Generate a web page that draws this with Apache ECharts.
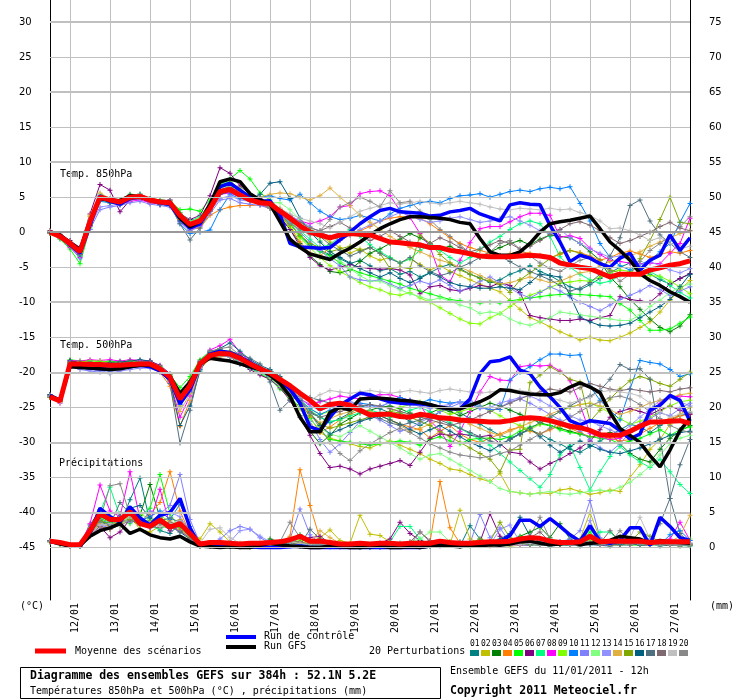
<!DOCTYPE html>
<html>
<head>
<meta charset="utf-8">
<title>Diagramme des ensembles GEFS</title>
<script src="https://cdn.jsdelivr.net/npm/echarts@6.0.0/dist/echarts.min.js"></script>
<style>
html,body{margin:0;padding:0;background:#fff;}
#chart{width:740px;height:700px;}
</style>
</head>
<body>
<div id="chart"></div>
<script>
// echeances en heures depuis le 11/01/2011 12h
var hours = [0,6,12,18,24,30,36,42,48,54,60,66,72,78,84,90,96,102,108,114,120,126,132,138,144,150,156,162,168,174,180,186,
  192,198,204,210,216,222,228,234,240,246,252,258,264,270,276,282,288,294,300,306,312,318,324,330,336,342,348,354,360,366,372,378,384];
var dateLabels = ['12/01','13/01','14/01','15/01','16/01','17/01','18/01','19/01','20/01','21/01','22/01','23/01','24/01','25/01','26/01','27/01'];
var leftTicks = [30,25,20,15,10,5,0,-5,-10,-15,-20,-25,-30,-35,-40,-45];
var pertNames = ['01','02','03','04','05','06','07','08','09','10','11','12','13','14','15','16','17','18','19','20'];
var pertColors = ['#008080','#c0c000','#008000','#ff8000','#00ff00','#800080','#00ff80','#ff00ff','#80ff00','#0080ff',
  '#8080ff','#80ff80','#9090ff','#e0b040','#80a800','#006080','#507080','#806870','#c0c0c0','#888888'];

// Temp. 850hPa
var t850Mean = [0.0,-0.6,-1.6,-2.8,1.5,5.0,4.6,4.3,5.0,5.1,4.6,4.3,4.2,2.4,1.1,1.6,
  3.4,5.8,6.1,5.3,4.6,4.2,4.1,3.0,2.0,0.9,0.0,-0.4,-0.8,-0.4,-0.2,-0.3,
  -0.4,-0.9,-1.4,-1.5,-1.7,-1.8,-2.2,-2.2,-2.6,-2.8,-3.1,-3.4,-3.5,-3.5,-3.5,-3.4,
  -3.3,-3.4,-3.6,-4.4,-4.7,-5.0,-5.2,-5.8,-6.4,-6.0,-6.0,-6.0,-5.4,-5.1,-4.7,-4.5,-4.1];
var t850Ctrl = [0.0,-0.5,-1.8,-3.0,1.0,5.2,4.4,4.0,4.8,5.0,4.5,4.2,4.0,2.0,0.6,1.2,
  3.5,6.5,7.0,6.0,5.0,4.4,4.5,2.5,-1.6,-2.1,-2.2,-2.3,-2.2,-1.1,0.0,1.2,
  2.2,3.1,3.4,2.9,2.8,2.7,2.3,2.4,2.9,3.1,3.4,2.6,2.1,1.6,3.9,4.2,
  4.0,3.9,1.0,-1.4,-4.2,-3.3,-3.7,-4.5,-5.0,-3.7,-3.0,-5.4,-4.0,-3.3,-0.4,-2.6,-0.8];
var t850Gfs = [0.0,-0.4,-1.5,-2.5,1.5,4.8,4.6,4.5,5.2,5.0,4.6,4.4,4.3,2.0,0.8,1.5,
  4.0,7.2,7.6,7.2,5.5,4.6,4.0,1.5,-1.0,-2.2,-3.1,-3.5,-3.9,-3.0,-2.3,-1.4,
  -0.4,0.5,1.2,1.8,2.2,2.2,2.1,2.0,1.8,1.4,1.2,-0.9,-2.8,-3.3,-3.3,-2.8,
  -1.6,0.0,1.2,1.5,1.7,2.0,2.3,0.5,-1.4,-2.6,-4.0,-5.9,-6.9,-7.6,-8.5,-9.2,-10.0];
var t850Pert = [
  [0.1,-0.5,-1.8,-3.2,1.0,5.3,4.8,4.5,5.2,5.0,4.4,4.0,4.1,2.0,0.5,1.4,
   3.6,6.2,6.8,5.6,4.9,4.4,3.8,2.6,1.2,-0.5,-1.8,-2.6,-3.2,-3.8,-4.5,-4.0,
   -4.8,-5.5,-5.2,-6.0,-5.6,-6.4,-5.8,-5.0,-4.6,-5.2,-6.0,-6.5,-7.2,-6.8,-6.0,-5.5,
   -4.8,-5.6,-6.2,-7.0,-7.8,-8.2,-7.5,-6.6,-5.8,-5.0,-4.4,-5.2,-6.0,-6.8,-7.4,-6.6,-6.0],
  [-0.2,-0.8,-1.5,-2.4,2.2,5.5,4.7,4.2,4.8,5.2,4.8,4.5,4.4,2.8,1.5,2.0,
   3.8,6.0,6.4,5.8,5.0,4.6,4.2,3.4,2.4,1.5,0.6,-0.5,-1.4,-2.2,-3.0,-2.4,
   -3.4,-4.0,-3.6,-4.4,-3.8,-4.6,-5.4,-4.8,-5.6,-6.2,-6.8,-7.4,-8.0,-8.5,-9.8,-11.0,
   -12.2,-12.8,-13.5,-14.2,-14.8,-15.4,-15.0,-15.4,-15.5,-15.0,-14.4,-13.6,-12.8,-11.4,-9.7,-8.2,-6.9],
  [0.0,-0.7,-2.0,-3.0,1.2,4.8,4.4,4.6,5.4,5.3,4.6,4.2,4.0,2.2,0.8,1.2,
   3.2,5.8,6.6,5.8,4.8,4.0,3.4,2.0,0.4,-1.6,-3.4,-4.6,-5.6,-5.8,-5.4,-4.2,
   -3.0,-2.4,-1.6,-1.0,-0.2,-0.8,-1.6,-2.4,-2.0,-2.8,-3.2,-3.6,-2.8,-2.2,-1.6,-1.2,
   -1.8,-1.0,-0.4,-0.6,-0.8,-1.6,-2.8,-4.0,-6.4,-7.8,-9.6,-11.0,-12.4,-13.6,-14.2,-13.4,-11.8],
  [0.2,-0.4,-1.4,-2.6,1.8,4.8,4.2,4.0,4.6,4.8,4.2,4.0,3.8,1.8,0.4,0.6,
   2.4,3.2,3.6,3.8,3.8,3.9,3.4,2.4,0.8,-1.4,-3.0,-3.4,-2.2,-1.2,-0.4,0.2,
   0.8,1.6,2.0,2.2,2.2,2.0,1.2,0.2,-0.8,-1.6,-2.2,-2.6,-3.0,-3.3,-3.1,-2.8,
   -3.0,-3.3,-3.6,-3.2,-2.6,-2.9,-3.4,-4.0,-3.6,-3.0,-2.7,-3.1,-3.6,-3.2,-2.8,-3.0,-2.6],
  [-0.1,-1.0,-2.4,-4.5,0.6,4.6,4.2,4.4,5.0,4.9,4.8,4.6,4.4,3.2,3.3,3.0,
   4.6,6.8,7.6,8.8,7.6,5.6,4.6,3.2,1.4,-0.6,-2.0,-2.8,-3.4,-4.4,-5.2,-5.8,
   -6.2,-6.6,-7.0,-7.4,-8.0,-8.4,-8.8,-9.2,-9.6,-9.8,-10.0,-10.1,-10.0,-10.1,-9.8,-9.6,
   -9.4,-9.2,-9.0,-8.9,-8.8,-8.9,-9.0,-9.1,-9.2,-10.2,-11.1,-12.6,-14.0,-14.0,-13.8,-13.0,-12.1],
  [0.2,-0.3,-1.2,-2.2,2.6,6.8,6.0,2.9,4.6,5.4,4.8,4.4,4.6,2.6,1.8,2.4,
   5.2,9.2,8.4,6.6,5.4,4.8,3.6,2.2,0.4,-2.0,-3.6,-4.8,-5.4,-5.0,-4.6,-5.0,
   -5.2,-5.3,-5.2,-5.4,-6.1,-8.8,-7.8,-7.6,-8.2,-8.4,-8.0,-7.6,-7.8,-7.2,-7.6,-8.6,
   -11.9,-12.2,-12.4,-12.6,-12.6,-12.4,-12.6,-12.2,-11.9,-9.2,-9.6,-9.8,-10.0,-8.8,-7.4,-6.6,-5.9],
  [-0.1,-0.6,-1.7,-3.0,1.6,5.2,4.8,4.4,5.2,5.4,4.8,4.4,4.2,2.8,1.6,2.2,
   4.2,6.6,7.4,6.0,5.0,4.4,3.8,2.8,1.6,0.2,-1.0,-2.2,-1.8,-0.6,0.4,-0.6,
   -1.8,-2.8,-3.6,-4.4,-3.8,-2.6,-1.8,-2.6,-3.6,-4.4,-3.6,-2.4,-1.4,-0.6,0.4,1.2,
   1.6,1.2,-0.6,-3.5,-5.0,-6.0,-6.8,-7.3,-7.0,-6.2,-5.6,-5.0,-5.6,-6.4,-7.6,-8.6,-9.4],
  [0.0,-0.8,-2.2,-3.6,0.8,4.6,4.4,4.0,4.4,4.6,4.2,4.0,3.8,1.6,0.2,1.0,
   3.0,5.4,5.6,5.0,4.4,4.0,3.6,2.8,2.2,1.6,1.2,1.6,2.2,3.6,3.8,5.5,
   5.8,5.9,5.2,3.1,2.1,-0.2,-2.1,-6.1,-7.1,-4.0,-1.5,0.5,0.8,0.8,1.5,2.2,
   2.7,2.7,2.4,-0.7,-0.5,-0.9,-2.3,-3.2,-4.0,-4.2,-4.4,-4.5,-4.4,-4.5,-3.0,-1.6,2.0],
  [0.1,-0.4,-1.6,-3.4,1.2,5.0,4.6,4.6,5.0,5.2,4.4,4.2,4.0,2.4,1.0,1.8,
   3.8,6.2,7.2,6.2,5.2,4.4,3.6,2.2,0.8,-0.8,-2.2,-3.6,-4.8,-5.6,-6.4,-7.2,
   -7.8,-8.2,-8.8,-9.0,-8.6,-9.4,-10.0,-10.8,-11.6,-12.4,-13.0,-13.1,-12.2,-11.6,-10.6,-9.7,
   -9.0,-8.5,-7.9,-7.3,-7.1,-6.9,-7.0,-6.4,-5.8,-5.4,-5.6,-6.1,-6.2,-6.3,-7.0,-7.8,-8.8],
  [0.0,-0.6,-1.9,-3.4,0.4,4.4,4.2,4.0,4.8,4.9,4.4,4.0,3.8,1.2,-0.2,0.0,
   0.3,3.2,5.4,4.8,4.6,5.0,5.2,4.8,4.6,5.4,4.2,3.0,2.2,1.8,2.0,2.4,
   2.0,1.6,2.6,3.4,3.8,4.2,4.4,4.2,4.8,5.2,5.3,5.5,5.0,5.4,5.8,6.0,
   5.8,6.2,6.4,6.2,6.5,4.1,1.6,-1.6,-3.6,-4.8,-5.4,-4.6,-4.0,-2.8,-1.6,1.4,4.1],
  [-0.1,-0.9,-2.0,-3.8,0.4,3.2,3.6,3.8,4.2,4.4,4.0,3.8,3.6,1.4,0.2,0.8,
   2.6,4.6,4.8,4.2,4.0,3.8,3.4,2.6,1.4,0.0,-1.4,-2.6,-3.8,-4.8,-6.4,-6.8,
   -7.0,-6.8,-7.4,-8.0,-7.6,-7.0,-7.4,-6.8,-7.6,-8.4,-7.8,-7.0,-6.4,-7.2,-8.0,-8.8,
   -9.4,-8.6,-7.8,-8.4,-9.2,-10.0,-10.6,-11.2,-10.4,-9.6,-9.0,-8.4,-7.6,-8.2,-9.0,-8.4,-7.8],
  [0.1,-0.5,-1.7,-3.1,1.4,5.4,4.6,4.4,5.0,5.1,4.5,4.3,4.2,2.6,1.4,1.8,
   3.6,6.0,6.6,5.6,4.8,4.4,4.2,4.2,3.2,1.8,0.4,-1.2,-2.6,-4.0,-5.2,-6.2,
   -7.0,-7.0,-7.6,-8.2,-8.8,-9.2,-9.7,-9.4,-9.8,-10.4,-10.8,-11.6,-11.4,-11.6,-12.4,-13.0,
   -13.3,-12.8,-12.2,-11.4,-11.6,-11.8,-12.0,-12.2,-12.4,-12.6,-12.6,-11.8,-10.6,-9.7,-8.6,-7.8,-7.4],
  [0.0,-0.7,-1.8,-3.0,0.8,3.6,3.8,4.0,4.6,4.8,4.4,4.0,3.9,1.6,0.4,1.2,
   3.0,4.8,5.2,4.6,4.4,4.2,3.8,3.2,2.4,1.6,0.8,0.0,-0.6,-1.2,-0.4,0.4,
   1.0,1.6,2.2,2.8,2.4,1.8,1.4,1.6,2.0,2.2,1.8,1.4,1.6,2.0,2.2,1.6,
   1.0,0.2,-0.2,0.4,-0.8,-1.6,-2.4,-3.0,-3.6,-3.4,-4.0,-4.6,-4.2,-4.8,-5.4,-5.8,-5.2],
  [0.1,-0.6,-1.4,-2.6,2.4,5.6,4.8,4.4,5.0,5.0,4.4,4.2,4.2,2.0,0.6,1.4,
   3.4,5.6,6.0,5.2,4.8,5.0,5.4,5.6,5.5,5.0,4.6,5.2,6.3,5.0,3.8,2.4,
   1.4,0.4,-0.6,-1.4,-2.2,-2.8,-3.4,-4.0,-4.4,-5.0,-5.6,-6.2,-6.8,-7.4,-7.2,-6.8,
   -6.4,-6.8,-7.2,-7.0,-6.4,-5.8,-5.6,-4.8,-4.2,-3.8,-3.4,-2.8,-2.0,-1.4,-0.8,-0.2,0.2],
  [-0.2,-0.8,-2.0,-3.2,1.0,4.8,4.4,4.2,4.8,5.0,4.6,4.2,4.0,2.4,1.0,1.6,
   3.6,5.8,6.4,5.6,4.6,4.2,3.6,2.4,1.0,-0.4,-1.6,-2.2,-2.8,-2.4,-2.0,-2.6,
   -2.2,-3.0,-5.2,-5.0,-5.2,-0.4,-1.6,-3.2,-4.4,-5.4,-6.0,-6.6,-7.0,-7.5,-8.6,-6.8,
   -5.8,-4.8,-3.8,-3.0,-2.6,-3.0,-3.6,-4.4,-5.4,-5.8,-6.0,-3.8,-1.2,1.8,5.0,1.4,1.2],
  [0.1,-0.4,-1.6,-3.2,1.0,4.8,4.2,4.0,4.8,5.2,4.6,4.0,3.8,1.6,0.6,1.4,
   3.2,5.4,5.8,5.0,4.6,5.4,7.0,7.2,4.8,2.0,0.0,-1.4,-2.8,-3.6,-4.4,-5.2,
   -5.8,-6.4,-5.8,-6.6,-7.2,-6.6,-5.8,-6.4,-7.2,-7.6,-7.8,-8.0,-8.0,-7.8,-8.0,-8.2,
   -7.2,-6.0,-6.2,-6.4,-9.0,-12.1,-12.8,-13.3,-13.4,-13.3,-13.0,-12.2,-11.4,-10.6,-9.6,-7.8,-6.0],
  [0.0,-0.5,-1.7,-3.0,1.2,5.0,4.6,4.2,5.0,5.0,4.4,4.2,4.0,1.2,-1.1,0.6,
   3.0,5.6,6.4,5.6,4.8,4.2,3.8,3.0,2.0,0.8,0.2,-0.6,-1.8,-2.6,-3.4,-2.8,
   -2.2,-3.0,-3.8,-4.4,-3.6,-4.8,-5.6,-6.2,-5.8,-5.0,-4.4,-3.6,-2.8,-3.4,-4.2,-5.0,
   -5.6,-6.2,-6.8,-7.6,-8.4,-8.0,-7.2,-6.0,-3.4,-0.8,3.8,4.6,1.6,-0.4,-1.6,-2.8,-3.6],
  [0.0,-0.6,-1.8,-3.2,1.0,4.9,4.5,4.3,5.0,5.1,4.5,4.2,4.1,2.2,0.8,1.4,
   3.4,6.0,6.6,5.6,4.8,4.3,4.0,3.2,2.2,1.4,0.6,0.2,0.8,1.4,0.6,-0.4,
   -1.2,-0.6,0.2,-0.6,-1.4,-2.2,-1.6,-0.8,-1.4,-2.2,-2.8,-2.4,-1.8,-1.2,-1.6,-2.4,
   -2.0,-1.2,-0.4,0.4,1.2,1.5,1.0,0.2,-0.8,-1.6,-1.2,-0.6,0.0,0.8,1.4,0.6,0.2],
  [0.1,-0.4,-1.5,-2.8,1.8,5.2,4.8,4.4,5.0,5.0,4.6,4.4,4.2,2.2,0.8,1.6,
   3.6,6.2,6.6,5.8,4.8,4.4,4.0,3.4,2.6,2.0,1.6,1.2,0.6,1.4,2.2,3.0,
   3.4,3.8,4.2,4.0,4.2,4.4,4.2,4.0,4.2,4.4,4.2,4.0,3.6,3.3,3.2,3.4,
   3.3,3.2,3.4,3.2,3.3,2.8,2.4,1.6,0.5,0.6,0.2,-0.4,-1.2,-0.8,-1.6,-2.4,-2.0],
  [-0.1,-0.6,-1.6,-2.6,1.6,5.0,4.6,4.4,5.2,5.4,4.8,4.2,4.6,2.2,0.8,1.8,
   4.0,7.0,7.4,6.0,4.8,4.2,3.6,2.6,1.2,0.4,-0.4,0.2,1.8,3.6,4.2,5.0,
   4.4,3.6,5.9,4.2,4.4,3.0,1.8,0.4,-0.6,-1.8,-3.0,-3.6,-2.8,-1.6,-1.2,-2.4,
   -3.4,-4.4,-5.2,-5.6,-4.8,-4.0,-3.6,-4.4,-5.6,-7.0,-6.0,-4.2,-2.6,-1.6,-0.6,0.8,2.2]
];

// Temp. 500hPa
var t500Mean = [-23.5,-24.1,-18.8,-18.8,-18.9,-18.9,-19.0,-19.0,-18.9,-18.8,-18.8,-19.5,-20.7,-23.8,-21.9,-18.8,
  -17.6,-17.3,-17.4,-18.0,-18.8,-19.5,-20.1,-21.0,-21.9,-23.0,-24.0,-25.2,-24.6,-24.4,-24.7,-25.4,
  -26.1,-26.0,-26.0,-26.3,-26.4,-26.0,-26.2,-26.5,-26.6,-26.8,-26.9,-27.0,-27.1,-27.1,-26.9,-26.6,
  -26.5,-26.6,-26.9,-27.3,-27.7,-27.9,-28.3,-28.9,-29.0,-29.0,-28.4,-27.7,-27.1,-27.1,-27.0,-26.9,-27.3];
var t500Ctrl = [-23.3,-24.0,-19.0,-19.2,-19.4,-19.5,-19.6,-19.4,-19.2,-19.0,-19.2,-19.8,-21.0,-24.5,-22.5,-19.0,
  -17.4,-17.0,-17.2,-17.8,-18.6,-19.4,-20.2,-21.2,-22.4,-24.4,-27.8,-28.3,-26.4,-24.7,-23.8,-23.0,
  -23.2,-23.8,-24.2,-24.4,-24.5,-24.5,-24.7,-25.0,-25.2,-25.2,-23.8,-20.2,-18.5,-18.3,-17.8,-19.7,
  -20.2,-22.1,-23.5,-25.0,-26.9,-27.5,-26.9,-27.1,-27.3,-28.3,-29.5,-28.8,-25.4,-24.7,-23.3,-24.0,-27.0];
var t500Gfs = [-23.4,-24.0,-19.2,-19.3,-19.4,-19.5,-19.6,-19.5,-19.2,-19.0,-19.0,-19.6,-20.6,-23.0,-21.4,-18.8,
  -18.0,-18.2,-18.4,-18.8,-19.2,-19.6,-20.4,-21.6,-23.4,-26.4,-28.5,-28.5,-25.7,-25.0,-25.4,-23.8,
  -23.7,-23.7,-23.8,-24.0,-24.1,-24.3,-24.6,-25.0,-25.2,-25.2,-24.7,-24.2,-23.5,-22.5,-22.6,-22.9,
  -23.1,-23.2,-23.2,-22.9,-22.1,-21.5,-22.1,-22.9,-25.7,-28.0,-29.0,-30.0,-31.9,-33.5,-31.1,-28.3,-26.6];
var t500Pert = [
  [-23.2,-23.9,-18.6,-18.9,-19.2,-19.4,-19.2,-19.0,-18.8,-18.6,-18.5,-19.2,-20.6,-24.2,-21.6,-18.5,
   -17.0,-16.8,-17.2,-18.0,-18.9,-19.6,-20.2,-21.4,-22.8,-24.2,-25.8,-26.4,-27.2,-26.6,-25.8,-25.0,
   -24.6,-25.2,-25.8,-26.2,-27.0,-27.6,-26.8,-25.6,-25.0,-25.8,-26.6,-27.4,-28.2,-29.0,-29.4,-28.8,
   -28.2,-28.8,-29.6,-30.2,-31.0,-31.4,-30.6,-29.8,-29.0,-28.2,-27.4,-27.8,-28.6,-27.6,-26.8,-26.2,-25.8],
  [-23.6,-24.3,-19.0,-18.7,-18.6,-18.8,-18.7,-18.9,-19.1,-18.9,-18.7,-19.8,-21.2,-24.8,-22.4,-19.2,
   -17.8,-17.6,-17.5,-18.2,-19.0,-19.8,-20.6,-21.8,-23.4,-25.2,-27.4,-28.6,-29.4,-29.8,-30.2,-30.6,
   -30.8,-30.2,-29.8,-30.4,-31.0,-31.6,-32.4,-33.0,-33.8,-34.0,-34.6,-35.2,-35.6,-34.4,-37.0,-37.2,
   -37.4,-37.2,-37.3,-36.8,-36.6,-37.0,-37.4,-37.2,-36.8,-37.0,-35.0,-33.2,-31.0,-29.6,-27.4,-26.0,-25.0],
  [-23.4,-24.0,-18.9,-19.0,-19.1,-19.0,-19.2,-19.1,-19.0,-18.9,-19.0,-19.6,-20.4,-23.0,-21.2,-18.6,
   -17.4,-17.2,-17.6,-18.4,-19.2,-20.0,-20.8,-22.0,-23.8,-26.2,-28.4,-30.2,-29.0,-27.4,-26.6,-25.8,
   -25.4,-25.0,-24.8,-25.2,-25.8,-26.4,-25.8,-25.2,-25.6,-26.2,-25.6,-25.0,-24.4,-24.8,-25.4,-26.0,
   -26.6,-27.2,-27.6,-28.0,-28.4,-28.8,-29.2,-29.0,-28.6,-30.2,-31.6,-32.4,-32.8,-31.0,-29.4,-28.4,-27.6],
  [-23.3,-24.2,-18.5,-18.6,-18.8,-18.7,-18.9,-18.8,-18.7,-18.6,-18.9,-20.0,-22.0,-27.7,-24.0,-19.6,
   -18.0,-17.8,-17.6,-18.2,-18.6,-19.2,-20.0,-21.2,-22.4,-24.0,-26.4,-28.6,-27.8,-26.8,-26.0,-25.4,
   -25.6,-26.2,-26.8,-27.4,-27.8,-28.2,-29.4,-28.4,-27.6,-28.8,-29.6,-30.0,-29.4,-28.8,-28.2,-27.8,
   -28.4,-28.8,-28.2,-27.6,-28.0,-28.6,-29.2,-29.0,-29.4,-29.8,-29.6,-28.8,-28.0,-27.2,-26.6,-26.2,-26.0],
  [-23.5,-24.0,-18.2,-18.4,-18.3,-18.5,-18.4,-18.6,-18.4,-18.3,-18.5,-19.2,-20.4,-22.2,-20.6,-18.2,
   -17.0,-16.8,-17.4,-18.4,-19.4,-20.2,-21.0,-22.4,-23.6,-25.0,-26.6,-28.2,-29.6,-29.8,-30.0,-30.2,
   -30.4,-30.2,-30.0,-29.8,-30.0,-30.4,-29.6,-29.2,-29.8,-30.2,-29.6,-29.4,-29.4,-29.6,-29.2,-28.4,
   -27.8,-27.4,-27.6,-28.2,-28.6,-28.8,-29.2,-29.4,-29.6,-30.2,-29.8,-29.4,-28.8,-28.2,-29.0,-28.2,-27.8],
  [-23.2,-23.8,-18.4,-18.6,-18.5,-18.8,-19.0,-18.6,-18.4,-18.5,-18.4,-19.0,-20.2,-23.4,-21.4,-18.4,
   -17.2,-17.0,-17.8,-18.8,-19.6,-20.4,-21.0,-22.2,-24.0,-26.4,-29.0,-31.6,-33.6,-33.4,-33.8,-34.5,
   -33.8,-33.4,-33.0,-32.6,-33.3,-31.4,-29.4,-28.8,-29.0,-28.8,-29.0,-29.2,-29.0,-30.2,-31.4,-31.6,
   -32.8,-33.8,-33.0,-32.4,-31.6,-30.8,-29.8,-28.2,-26.4,-25.6,-25.2,-25.6,-26.0,-25.4,-24.8,-25.4,-26.0],
  [-23.4,-24.1,-18.6,-18.7,-18.6,-18.6,-18.8,-18.9,-18.7,-18.6,-18.6,-19.4,-20.6,-23.4,-21.6,-18.6,
   -17.6,-17.4,-17.6,-18.2,-19.0,-19.6,-20.0,-20.8,-22.2,-23.8,-25.4,-26.4,-27.0,-26.8,-26.2,-25.8,
   -25.4,-25.8,-26.4,-26.0,-25.4,-25.0,-25.6,-26.4,-27.2,-28.0,-28.8,-29.6,-30.4,-31.6,-32.8,-34.0,
   -35.2,-36.4,-34.6,-31.8,-30.4,-33.6,-36.8,-34.2,-32.0,-30.6,-31.8,-32.8,-33.6,-32.4,-34.2,-36.0,-37.3],
  [-23.3,-24.4,-18.3,-18.4,-18.2,-18.3,-18.2,-18.4,-18.2,-18.3,-18.4,-19.4,-21.4,-26.4,-23.4,-19.2,
   -16.8,-16.2,-15.3,-17.2,-18.4,-19.4,-20.2,-21.4,-22.6,-23.8,-24.6,-24.2,-23.8,-23.4,-23.6,-23.8,
   -23.4,-23.2,-23.2,-23.6,-24.0,-24.6,-26.9,-28.3,-30.6,-28.4,-25.6,-22.8,-20.6,-21.1,-21.2,-19.2,
   -19.0,-19.1,-19.0,-19.8,-21.2,-24.6,-28.7,-29.2,-29.6,-29.4,-28.6,-27.5,-26.0,-24.4,-23.6,-23.4,-23.5],
  [-23.6,-24.2,-18.7,-18.5,-18.4,-18.4,-18.6,-18.5,-18.4,-18.6,-18.7,-19.3,-20.8,-23.6,-21.8,-18.9,
   -17.8,-17.6,-17.8,-18.6,-19.4,-20.0,-20.6,-21.6,-22.8,-24.0,-25.2,-26.0,-25.6,-25.2,-25.0,-25.4,
   -25.8,-26.2,-25.6,-25.0,-24.6,-24.2,-24.8,-25.4,-26.0,-25.6,-25.2,-24.8,-25.4,-26.2,-27.0,-27.6,
   -28.2,-27.4,-26.4,-25.6,-25.0,-24.6,-24.4,-25.0,-25.8,-26.6,-27.4,-27.0,-26.4,-25.6,-24.8,-24.2,-24.0],
  [-23.5,-24.1,-19.0,-19.2,-19.3,-19.6,-19.8,-19.4,-19.2,-19.0,-19.1,-19.8,-21.0,-24.6,-22.8,-19.6,
   -17.6,-17.4,-17.2,-18.8,-19.4,-20.0,-20.6,-21.4,-22.6,-24.0,-25.2,-26.0,-25.4,-24.8,-24.6,-24.4,
   -24.6,-25.0,-24.2,-23.6,-24.0,-24.4,-23.9,-24.2,-24.4,-24.2,-24.4,-25.0,-25.3,-25.3,-21.1,-20.0,
   -19.2,-18.2,-17.4,-17.4,-17.6,-17.5,-22.0,-24.0,-25.4,-26.8,-22.4,-18.3,-18.6,-18.8,-19.6,-20.6,-20.2],
  [-23.4,-24.0,-19.2,-19.6,-19.8,-20.0,-20.2,-19.8,-19.6,-19.4,-19.4,-20.0,-21.2,-24.4,-22.6,-19.4,
   -17.8,-17.6,-17.8,-18.4,-19.2,-20.0,-20.6,-21.8,-23.0,-24.6,-27.0,-29.6,-31.4,-30.2,-28.6,-27.0,
   -26.2,-26.8,-27.6,-28.4,-28.0,-27.2,-26.4,-25.6,-25.0,-24.4,-24.0,-24.8,-25.6,-25.0,-24.2,-23.8,
   -24.4,-25.2,-26.0,-26.8,-27.6,-28.4,-29.6,-30.8,-31.4,-30.2,-28.6,-27.4,-26.6,-25.8,-26.2,-25.2,-24.4],
  [-23.5,-24.1,-18.8,-18.6,-18.6,-18.8,-18.9,-18.8,-18.6,-18.5,-18.6,-19.4,-20.8,-23.8,-22.0,-18.8,
   -17.4,-17.2,-17.4,-18.2,-19.2,-20.0,-20.8,-22.0,-23.4,-25.0,-26.8,-28.0,-28.8,-29.2,-28.4,-27.6,
   -28.4,-29.2,-30.0,-30.8,-31.6,-32.4,-31.8,-31.6,-32.4,-33.2,-34.0,-34.8,-35.6,-36.6,-37.0,-37.2,
   -37.4,-37.2,-37.0,-37.3,-37.4,-37.2,-37.0,-36.8,-37.0,-36.4,-35.7,-34.6,-33.4,-31.8,-30.2,-29.4,-29.0],
  [-23.4,-24.0,-19.0,-19.4,-19.6,-19.8,-20.0,-19.6,-19.4,-19.2,-19.2,-19.8,-21.0,-23.8,-22.2,-19.2,
   -17.6,-17.4,-17.6,-18.4,-19.2,-19.8,-20.4,-21.4,-22.6,-23.8,-24.8,-25.4,-25.0,-24.6,-24.2,-24.6,
   -25.0,-24.8,-24.4,-24.2,-24.6,-24.8,-25.2,-24.8,-24.6,-24.2,-24.6,-25.2,-25.0,-24.4,-24.0,-23.6,
   -23.4,-24.0,-24.8,-25.6,-26.2,-26.8,-27.0,-27.6,-28.2,-28.8,-27.6,-26.4,-25.2,-24.0,-23.6,-24.2,-24.8],
  [-23.3,-23.9,-18.6,-18.7,-18.8,-18.9,-19.0,-18.9,-18.8,-18.7,-18.6,-19.6,-21.0,-25.6,-23.0,-19.0,
   -17.6,-17.2,-17.0,-17.6,-18.6,-19.4,-20.0,-21.0,-22.4,-24.2,-26.0,-27.2,-26.6,-26.0,-25.6,-25.2,
   -25.6,-26.2,-26.8,-27.6,-28.4,-28.0,-27.4,-26.8,-26.4,-26.8,-27.4,-28.0,-28.6,-29.0,-28.4,-27.8,
   -27.2,-26.6,-26.0,-25.4,-25.0,-24.6,-24.4,-24.8,-25.4,-26.0,-25.6,-25.0,-24.4,-24.0,-23.6,-23.2,-23.0],
  [-23.6,-24.2,-19.0,-18.9,-18.8,-19.0,-19.1,-19.0,-18.9,-18.8,-18.8,-19.5,-20.6,-23.2,-21.4,-18.6,
   -17.2,-17.0,-17.2,-18.0,-18.8,-19.6,-20.4,-21.6,-23.0,-24.6,-26.2,-27.4,-28.0,-27.6,-27.2,-26.8,
   -26.4,-26.0,-25.6,-25.8,-26.4,-27.0,-27.6,-28.4,-29.2,-30.0,-30.8,-31.6,-32.4,-34.2,-31.1,-31.0,
   -21.5,-20.4,-19.2,-20.0,-21.0,-21.4,-27.0,-25.4,-23.8,-22.4,-21.2,-20.6,-21.0,-21.6,-22.0,-21.0,-20.0],
  [-23.2,-24.0,-18.4,-18.6,-18.7,-18.8,-18.6,-18.5,-18.4,-18.2,-18.4,-19.4,-21.2,-27.6,-24.8,-19.8,
   -17.2,-16.6,-15.8,-17.0,-18.2,-19.0,-19.6,-20.6,-22.2,-24.0,-25.8,-27.6,-28.8,-28.2,-27.6,-27.0,
   -26.6,-26.2,-26.8,-27.4,-28.2,-28.8,-28.2,-27.6,-28.4,-29.2,-30.0,-30.6,-31.2,-30.4,-29.6,-28.8,
   -28.0,-29.2,-30.4,-31.4,-30.6,-29.8,-30.4,-31.0,-31.4,-31.6,-31.2,-30.8,-30.2,-29.6,-29.0,-28.6,-28.4],
  [-23.4,-24.0,-18.6,-18.7,-18.8,-18.9,-18.8,-18.7,-18.6,-18.5,-18.6,-19.6,-21.6,-30.1,-25.4,-19.4,
   -17.0,-16.8,-17.0,-17.4,-18.0,-18.8,-21.4,-25.4,-24.0,-23.4,-23.6,-24.0,-24.4,-24.8,-25.2,-25.6,
   -26.0,-26.6,-27.2,-27.6,-27.2,-26.8,-26.4,-26.8,-27.4,-28.0,-28.6,-29.2,-29.8,-30.2,-29.6,-28.8,
   -28.0,-27.2,-26.4,-25.6,-24.8,-24.0,-23.4,-22.6,-21.0,-18.9,-19.6,-19.5,-21.0,-29.4,-38.0,-33.2,-29.6],
  [-23.5,-24.1,-18.7,-18.8,-18.9,-19.0,-19.1,-19.0,-18.9,-18.8,-18.7,-19.4,-20.6,-23.6,-21.8,-18.8,
   -17.4,-17.2,-17.4,-18.0,-18.8,-19.6,-20.4,-21.6,-22.8,-24.2,-25.6,-26.4,-26.0,-25.6,-25.2,-24.8,
   -24.6,-24.8,-25.2,-25.6,-26.0,-26.4,-26.8,-27.2,-27.6,-27.2,-26.8,-26.2,-25.6,-25.0,-24.4,-23.8,
   -23.2,-22.8,-22.4,-22.6,-22.8,-22.2,-21.6,-22.0,-22.4,-22.6,-22.4,-22.6,-22.8,-22.6,-22.8,-22.4,-22.2],
  [-23.4,-24.3,-18.9,-19.0,-19.2,-19.4,-20.2,-19.4,-19.2,-19.1,-19.0,-19.8,-21.2,-25.0,-23.8,-19.4,
   -17.6,-17.4,-17.4,-18.2,-19.0,-19.8,-20.4,-21.6,-22.8,-23.6,-24.0,-23.2,-22.6,-22.8,-23.0,-22.8,
   -22.6,-22.8,-23.0,-22.8,-22.6,-22.8,-23.0,-22.6,-22.4,-22.6,-22.8,-23.0,-22.8,-22.6,-22.4,-22.6,
   -22.8,-23.2,-23.6,-24.0,-24.4,-24.0,-23.6,-22.8,-22.6,-22.8,-23.0,-23.4,-24.4,-25.6,-26.4,-26.0,-25.6],
  [-23.3,-24.0,-18.7,-18.8,-18.7,-18.9,-19.0,-18.8,-18.7,-18.6,-18.7,-19.4,-20.8,-24.2,-22.2,-18.6,
   -17.0,-16.6,-16.4,-17.6,-18.6,-19.2,-19.8,-20.8,-22.2,-23.8,-25.8,-28.0,-30.0,-31.6,-32.6,-31.2,
   -30.2,-29.4,-28.6,-28.0,-28.6,-29.4,-30.2,-30.8,-31.4,-31.8,-32.0,-32.2,-32.0,-31.6,-31.2,-30.4,
   -29.6,-28.8,-28.0,-27.2,-26.4,-25.6,-24.8,-24.2,-23.6,-23.4,-23.8,-24.6,-25.6,-26.6,-27.6,-28.2,-28.6]
];

// Precipitations (mm)
var precMean = [0.9,0.7,0.4,0.4,2.4,4.8,4.0,4.0,5.1,3.4,3.0,3.9,2.9,3.4,2.0,0.5,
  0.7,0.7,0.6,0.5,0.6,0.6,0.7,0.8,1.1,1.6,0.9,0.9,0.7,0.5,0.5,0.6,
  0.5,0.6,0.6,0.5,0.6,0.6,0.6,0.9,0.7,0.6,0.6,0.7,0.8,0.8,0.9,1.2,
  1.4,1.3,0.9,0.7,0.7,0.8,1.6,0.8,0.9,0.9,0.9,0.9,0.7,0.8,0.8,0.8,0.8];
var precCtrl = [0.8,0.6,0.2,0.2,2.0,5.6,4.4,3.6,5.8,4.2,3.2,4.6,5.0,7.0,2.8,0.2,
  0.3,0.2,0.3,0.2,0.1,0.0,0.0,0.0,0.1,0.2,0.0,0.0,0.0,0.0,0.0,0.0,
  0.0,0.0,0.0,0.0,0.0,0.0,0.2,0.4,0.6,0.4,0.2,0.3,0.5,0.8,1.7,3.9,
  3.9,3.0,4.1,3.0,1.8,0.9,3.1,0.9,0.6,1.0,2.8,2.8,0.3,4.3,3.0,1.4,1.0];
var precGfs = [0.9,0.5,0.2,0.3,1.6,2.4,2.8,3.4,2.0,2.6,1.8,1.4,1.2,1.6,0.8,0.2,
  0.1,0.0,0.1,0.0,0.0,0.3,0.6,0.4,0.2,0.1,0.0,0.0,0.2,0.1,0.0,0.0,
  0.1,0.2,0.0,0.0,0.1,0.0,0.2,0.3,0.2,0.1,0.3,0.2,0.4,0.3,0.5,0.8,
  0.9,0.6,0.4,0.5,0.8,0.4,0.6,0.7,1.0,1.6,1.4,1.2,0.6,1.0,0.8,0.7,0.6];
var precPert = [
  [0.9,0.6,0.2,0.4,3.2,5.4,4.0,3.2,6.8,9.9,3.6,2.4,2.0,3.4,1.4,0.2,
   0.3,0.5,0.2,0.1,0.3,0.4,0.2,0.6,0.4,0.2,0.3,0.2,0.1,0.2,0.1,0.0,
   0.2,0.0,0.1,0.2,0.4,0.3,0.2,0.8,0.4,0.2,3.1,1.2,0.6,0.8,0.4,0.6,
   0.8,0.4,0.2,0.6,0.4,0.2,0.8,0.3,0.2,0.4,0.6,0.3,0.5,0.2,0.4,0.3,0.2],
  [1.0,0.7,0.3,0.2,1.8,3.6,4.2,3.0,4.4,2.6,2.2,3.0,2.8,4.0,2.6,1.2,
   3.4,2.2,0.8,0.6,0.4,0.3,0.6,0.5,0.8,1.2,0.6,1.4,2.5,1.0,0.6,4.6,
   1.9,1.7,0.8,0.4,0.3,0.5,0.2,0.6,0.4,5.3,1.2,0.6,0.3,0.4,0.2,0.3,
   0.5,0.4,0.6,0.3,0.8,1.2,5.0,1.2,0.4,0.6,0.3,0.5,0.8,0.4,0.6,0.3,0.5],
  [0.8,0.5,0.2,0.3,2.4,3.8,3.2,4.8,5.2,4.6,9.0,4.2,3.0,2.4,1.6,0.3,
   0.4,0.2,0.3,0.2,0.1,0.3,1.2,0.8,0.6,1.8,0.4,0.2,0.3,0.1,0.2,0.1,
   0.0,0.2,0.3,0.4,0.2,0.1,0.3,0.6,0.3,0.2,0.4,0.3,0.5,1.0,0.8,1.6,
   2.2,2.9,1.4,3.4,1.2,0.6,1.4,0.4,0.6,0.3,0.8,0.4,0.3,0.6,0.4,0.2,0.4],
  [0.9,0.6,0.3,0.2,1.6,3.0,2.6,3.4,4.2,3.6,4.8,6.4,10.8,5.2,2.0,0.4,
   0.2,0.3,0.2,0.4,0.3,0.2,0.4,0.6,1.6,11.1,6.0,1.2,0.4,0.2,0.3,0.2,
   0.3,0.2,0.4,0.3,0.6,0.4,0.8,9.4,2.8,0.6,0.4,0.3,0.2,0.4,0.6,0.8,
   0.6,0.4,0.8,0.6,0.4,0.3,0.9,0.4,0.6,0.8,0.5,0.4,0.3,0.6,0.4,0.5,0.3],
  [0.9,0.5,0.3,0.2,2.6,4.2,3.6,4.0,3.4,4.4,5.6,10.4,4.8,2.6,1.2,0.2,
   0.3,0.2,0.4,0.2,0.3,0.2,0.6,0.4,0.8,1.4,0.6,0.3,0.2,0.4,0.2,0.1,
   0.2,0.3,0.2,0.1,0.3,0.4,0.2,0.3,0.5,0.8,0.6,0.4,0.6,0.8,1.0,1.4,
   0.8,0.6,0.4,0.3,0.6,1.0,2.2,0.6,0.4,0.3,0.5,0.8,0.6,0.4,0.3,0.6,0.4],
  [1.0,0.6,0.3,0.2,2.0,3.0,1.4,2.2,4.0,3.2,2.8,3.6,2.4,3.8,1.8,0.3,
   0.4,0.6,0.3,0.2,0.4,0.3,0.2,0.4,0.6,0.8,1.4,1.6,0.6,0.4,0.3,0.2,
   0.4,0.6,1.2,3.6,2.0,1.0,0.4,0.3,0.6,0.4,0.3,0.8,4.8,1.6,0.6,0.4,
   0.3,0.6,0.4,0.8,0.4,0.3,0.6,0.4,0.5,0.3,0.4,0.6,0.8,0.4,0.3,0.5,0.4],
  [0.8,0.6,0.2,0.3,2.8,5.0,8.6,4.4,3.8,4.2,3.0,2.6,3.4,2.8,1.2,0.2,
   0.3,0.2,0.3,0.4,0.2,0.6,0.4,0.3,0.4,0.6,0.3,0.2,0.4,0.3,0.2,0.3,
   0.4,0.6,0.8,3.0,3.0,1.2,0.4,0.3,0.6,0.4,0.2,0.3,0.4,0.6,0.4,0.8,
   0.6,0.4,0.3,0.5,0.8,0.6,1.2,2.2,2.2,0.8,0.4,0.3,0.5,0.4,0.6,0.4,0.3],
  [0.9,0.6,0.2,0.3,3.4,8.9,5.2,4.4,10.8,4.0,3.6,8.3,3.2,2.4,1.4,0.2,
   0.2,0.3,0.2,0.1,0.3,0.2,0.4,0.2,0.3,0.6,0.4,0.2,0.3,0.2,0.1,0.2,
   0.3,0.2,0.4,0.3,0.2,0.4,0.3,0.2,0.4,0.3,0.6,0.4,0.5,0.6,0.3,0.4,
   0.6,0.4,0.3,0.5,0.4,0.6,0.8,0.4,0.3,0.6,0.4,0.5,0.3,0.6,1.2,3.6,1.0],
  [0.8,0.5,0.3,0.2,2.2,4.6,3.8,3.2,4.6,5.0,3.8,4.6,3.6,3.0,1.8,0.4,
   0.3,0.4,0.2,0.3,0.2,0.4,0.3,0.5,0.6,1.0,0.4,0.3,0.2,0.3,0.2,0.1,
   0.2,0.3,0.4,0.2,0.3,0.4,0.6,0.8,0.4,0.3,0.2,0.4,0.3,0.6,0.4,0.5,
   0.4,0.6,0.3,0.4,0.6,0.4,1.0,0.6,0.4,0.5,0.3,0.4,0.6,0.3,0.5,0.8,1.2],
  [0.9,0.7,0.3,0.2,1.8,4.0,3.4,4.2,5.6,3.8,4.4,5.2,4.0,6.2,3.0,0.4,
   0.2,0.3,0.1,0.2,0.3,0.2,0.3,0.4,0.2,0.4,0.3,0.2,0.1,0.2,0.3,0.2,
   0.1,0.2,0.3,0.2,0.4,0.3,0.2,0.3,0.4,0.2,0.3,0.6,0.4,0.3,0.6,0.8,
   0.6,0.4,0.8,0.6,0.4,0.3,1.2,0.4,0.6,0.3,0.4,0.6,0.8,0.4,1.8,2.4,1.0],
  [1.0,0.6,0.2,0.3,2.0,3.2,2.8,3.6,4.2,3.4,5.2,4.8,6.0,10.4,4.0,0.6,
   0.4,1.2,2.4,3.0,2.6,1.4,0.6,0.8,1.2,5.5,1.8,0.6,0.4,0.3,0.2,0.3,
   0.2,0.4,0.3,0.6,0.4,0.3,0.2,0.4,0.6,0.8,0.6,4.7,1.4,2.8,0.6,0.4,
   0.3,0.6,0.4,0.8,1.2,2.4,6.7,1.4,0.6,0.4,0.3,0.6,0.4,0.3,0.5,0.4,0.6],
  [0.8,0.5,0.3,0.2,2.4,3.6,4.4,3.8,4.2,3.6,4.0,3.4,2.8,3.2,1.6,0.3,
   0.2,0.3,0.4,0.2,0.3,0.4,0.3,0.4,0.6,0.8,0.4,0.3,0.2,0.4,0.3,0.2,
   0.3,0.2,0.4,0.6,0.8,1.2,2.2,2.2,0.8,0.4,0.3,0.2,0.4,0.3,0.6,0.8,
   0.4,0.3,0.6,0.4,0.3,0.6,0.8,0.4,0.6,0.3,0.4,0.5,0.3,0.4,0.6,0.3,0.4],
  [0.9,0.6,0.2,0.2,1.6,3.0,3.2,4.0,3.6,3.8,3.2,4.2,5.0,4.4,2.2,0.5,
   0.4,0.6,0.8,2.4,2.6,1.6,0.8,0.4,0.6,1.4,0.8,0.4,0.3,0.2,0.4,0.3,
   0.2,0.3,0.4,0.2,0.3,0.4,0.6,0.4,0.3,0.6,0.8,0.6,0.4,2.6,3.2,0.8,
   0.6,0.4,0.3,0.6,0.4,0.8,3.8,0.6,0.4,0.3,0.6,0.4,0.8,0.6,0.4,0.3,0.4],
  [0.9,0.6,0.3,0.2,1.8,3.4,3.0,3.8,4.6,4.2,3.4,3.0,3.8,2.6,1.4,0.2,
   0.3,0.4,0.3,0.2,0.4,0.3,0.6,0.4,0.3,0.6,0.8,2.4,1.4,0.6,0.4,0.3,
   0.2,0.3,0.4,0.3,0.2,0.4,0.6,0.3,0.4,0.2,0.3,0.6,0.4,0.3,0.4,0.6,
   0.8,0.4,0.6,0.3,0.5,0.4,0.8,0.6,0.4,0.3,0.5,0.6,0.4,0.6,0.8,1.6,4.6],
  [0.8,0.6,0.2,0.3,2.2,3.8,3.4,3.6,4.0,3.2,3.8,4.4,3.2,2.8,1.6,0.4,
   0.2,0.3,0.2,0.4,0.3,0.2,0.4,0.6,0.4,0.8,0.4,0.6,0.4,0.3,0.2,0.4,
   0.3,0.2,0.4,0.3,0.6,0.4,0.3,0.6,0.8,0.4,0.6,1.2,0.8,3.6,1.4,0.6,
   0.4,0.6,0.3,0.4,0.6,0.8,1.2,0.6,0.4,0.6,0.8,2.2,1.6,0.8,0.4,0.6,0.3],
  [0.9,0.6,0.3,0.2,2.6,4.4,3.8,4.2,5.6,6.0,4.2,3.4,3.0,2.2,1.2,0.2,
   0.3,0.2,0.3,0.2,0.1,0.3,0.2,0.4,0.3,0.2,0.4,0.3,0.2,0.1,0.2,0.3,
   0.2,0.4,0.3,0.2,0.4,0.3,0.6,0.4,0.3,0.5,0.4,0.6,0.8,1.2,2.0,4.3,
   1.6,0.8,0.6,0.4,0.3,0.6,0.4,0.3,0.5,0.4,0.6,0.3,0.4,0.5,0.4,0.3,0.4],
  [1.0,0.7,0.3,0.2,2.2,3.6,3.2,6.4,4.8,4.0,3.4,3.8,4.2,3.6,1.8,0.4,
   0.3,0.4,0.2,0.3,0.4,0.2,0.3,0.4,0.6,0.4,2.6,1.2,0.4,0.3,0.2,0.3,
   0.2,0.3,0.2,0.4,0.3,0.2,0.4,0.3,0.6,0.4,0.3,0.4,0.6,0.4,0.3,0.6,
   0.4,0.3,0.6,0.4,0.3,0.4,0.6,0.4,0.3,0.6,0.8,0.6,1.2,3.4,7.0,2.0,0.6],
  [0.9,0.5,0.2,0.3,2.0,3.0,2.6,3.2,3.8,3.6,3.0,2.8,3.6,3.2,1.4,0.3,
   0.4,0.6,0.4,0.3,0.2,0.4,0.3,0.6,1.0,0.8,0.4,0.6,0.3,0.2,0.4,0.3,
   0.4,0.3,0.6,0.4,0.8,2.2,1.0,0.4,0.3,0.6,0.4,0.8,0.6,0.4,0.8,1.0,
   1.4,2.2,0.8,0.4,0.6,0.4,0.8,0.6,2.4,0.8,0.4,0.6,0.8,0.4,0.6,0.4,0.5],
  [0.8,0.6,0.2,0.2,1.8,3.2,3.4,3.0,4.4,3.2,3.6,3.0,3.4,3.8,2.2,0.6,
   2.6,2.8,1.4,0.6,0.4,0.3,0.4,0.6,0.8,0.6,0.4,0.3,0.6,0.4,0.3,0.2,
   0.3,0.4,0.2,0.3,0.4,0.6,0.4,0.3,0.4,0.6,0.3,0.4,0.6,0.4,0.3,0.4,
   0.6,0.4,0.3,0.6,0.4,0.3,0.8,0.4,0.6,0.8,1.4,4.3,1.2,0.6,0.4,0.3,0.5],
  [0.9,0.6,0.3,0.2,2.4,4.0,8.8,9.1,4.6,3.4,3.0,3.6,2.8,2.4,1.2,0.3,
   0.2,0.4,0.3,0.2,0.4,0.3,0.6,0.8,3.6,1.4,0.6,0.4,0.3,0.2,0.4,0.3,
   0.2,0.4,0.3,0.6,0.4,2.2,0.8,0.4,0.3,0.4,0.6,0.8,0.6,0.4,0.6,0.8,
   1.6,4.3,1.2,0.6,0.4,0.3,0.6,0.4,0.6,2.4,0.8,0.4,0.3,0.6,0.4,0.3,0.4]
];

var mono = "'DejaVu Sans Mono', monospace";
var plus = 'path://M4,0h2v4h4v2h-4v4h-2v-4h-4v-2h4z';

function group(pert, mean, ctrl, gfs, yIdx) {
  var out = [];
  pert.forEach(function (d, k) {
    out.push({
      type: 'line', yAxisIndex: yIdx, data: d, z: 2,
      symbol: plus, symbolSize: 5, showAllSymbol: true,
      lineStyle: {width: 1, color: pertColors[k]},
      itemStyle: {color: pertColors[k]}
    });
  });
  out.push({type: 'line', yAxisIndex: yIdx, data: ctrl, z: 3, showSymbol: false, lineStyle: {width: 3.5, color: '#0000ff'}});
  out.push({type: 'line', yAxisIndex: yIdx, data: gfs, z: 3, showSymbol: false, lineStyle: {width: 3.5, color: '#000000'}});
  out.push({type: 'line', yAxisIndex: yIdx, data: mean, z: 4, showSymbol: false, lineStyle: {width: 5, color: '#ff0000'}});
  return out;
}

var series = [{
  type: 'line', data: [], z: 1, silent: true,
  markLine: {
    silent: true, symbol: ['none', 'none'], label: {show: false}, animation: false,
    data: leftTicks.map(function (v) {
      return {yAxis: v, lineStyle: {type: 'solid', width: v % 10 === 0 ? 2 : 1, color: v === 0 ? '#999999' : '#c0c0c0'}};
    })
  }
}];
series = series.concat(group(t850Pert, t850Mean, t850Ctrl, t850Gfs, 0));
series = series.concat(group(t500Pert, t500Mean, t500Ctrl, t500Gfs, 0));
series = series.concat(group(precPert, precMean, precCtrl, precGfs, 1));

var txt = function (x, y, s, size, bold) {
  return {type: 'text', left: x, top: y, style: {text: s, fill: '#000', font: (bold ? 'bold ' : '') + size + 'px ' + mono}};
};
var graphics = [
  txt(60, 169, 'Temp. 850hPa', 10), txt(60, 340, 'Temp. 500hPa', 10), txt(59, 458, 'Précipitations', 10),
  txt(20, 601, '(°C)', 10), txt(710, 601, '(mm)', 10),
  {type: 'line', shape: {x1: 35, y1: 651, x2: 66, y2: 651}, style: {stroke: '#ff0000', lineWidth: 5}},
  txt(75, 646, 'Moyenne des scénarios', 10),
  {type: 'line', shape: {x1: 226, y1: 637, x2: 256, y2: 637}, style: {stroke: '#0000ff', lineWidth: 4}},
  txt(264, 631, 'Run de contrôle', 10),
  {type: 'line', shape: {x1: 226, y1: 647, x2: 256, y2: 647}, style: {stroke: '#000000', lineWidth: 4}},
  txt(264, 641, 'Run GFS', 10),
  txt(369, 646, '20 Perturbations', 10),
  {type: 'rect', shape: {x: 20.5, y: 667.5, width: 420, height: 31}, style: {fill: 'none', stroke: '#000', lineWidth: 1}},
  txt(30, 670, 'Diagramme des ensembles GEFS sur 384h : 52.1N 5.2E', 11.5, true),
  txt(30, 686, 'Températures 850hPa et 500hPa (°C) , précipitations (mm)', 10),
  txt(450, 666, 'Ensemble GEFS du 11/01/2011 - 12h', 10),
  txt(450, 685, 'Copyright 2011 Meteociel.fr', 11.5, true)
];
pertNames.forEach(function (n, k) {
  graphics.push({type: 'rect', shape: {x: 470 + 11 * k, y: 650, width: 9, height: 6}, style: {fill: pertColors[k]}});
  graphics.push({type: 'text', left: 470 + 11 * k, top: 640, style: {text: n, fill: '#000', font: '8px ' + mono}});
});

var chart = echarts.init(document.getElementById('chart'));
chart.setOption({
  animation: false,
  backgroundColor: '#fff',
  grid: {left: 50, right: 50, top: 0, bottom: 100},
  xAxis: {
    type: 'category', data: hours, boundaryGap: false,
    axisLine: {lineStyle: {color: '#000', width: 1}},
    axisTick: {show: false},
    axisLabel: {
      rotate: 90, margin: 3, verticalAlign: 'top', color: '#000', fontFamily: mono, fontSize: 10,
      interval: function (i) { return (i - 2) % 4 === 0; },
      formatter: function (v, i) { return dateLabels[(i - 2) / 4] || ''; }
    },
    splitLine: {show: true, interval: function (i) { return (i - 2) % 4 === 0; }, lineStyle: {color: '#c0c0c0', width: 1}}
  },
  yAxis: [{
    type: 'value', position: 'left', min: -52.5, max: 33.14, interval: 2.5,
    axisLine: {show: true, lineStyle: {color: '#000', width: 1}},
    axisTick: {show: false}, splitLine: {show: false},
    axisLabel: {
      align: 'left', margin: 31, color: '#000', fontFamily: "'DejaVu Sans', sans-serif", fontSize: 10,
      formatter: function (v) { return (v % 5 === 0 && v >= -45 && v <= 30) ? String(v) : ''; }
    }
  }, {
    type: 'value', position: 'right', min: -7.5, max: 78.14, interval: 2.5,
    axisLine: {show: true, lineStyle: {color: '#000', width: 1}},
    axisTick: {show: false}, splitLine: {show: false},
    axisLabel: {
      margin: 19, color: '#000', fontFamily: "'DejaVu Sans', sans-serif", fontSize: 10,
      formatter: function (v) { return (v % 5 === 0 && v >= 0 && v <= 75) ? String(v) : ''; }
    }
  }],
  series: series,
  graphic: graphics
});
</script>
</body>
</html>
